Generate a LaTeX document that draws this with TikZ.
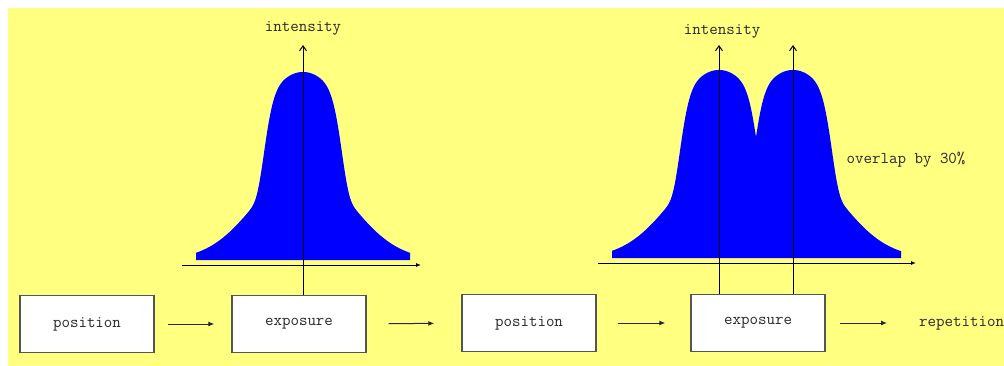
\documentclass[tikz,border=0pt]{standalone}
\usepackage{tikz}
\usetikzlibrary{arrows.meta,positioning}
\definecolor{bgyellow}{RGB}{255,255,128}
\definecolor{boxgray}{RGB}{85,85,85}
\definecolor{inkgray}{RGB}{40,40,40}

\tikzset{
  declare function={
    spot(\t)=94*exp(-(min((abs(\t)+0.01)/40,1.8)^6.6))+94*exp(-((\t/66.74)^2));
  },
  lbl/.style={font=\fontsize{16.5}{18}\selectfont\ttfamily,text=inkgray,inner sep=0pt},
  stage/.style={lbl,draw=boxgray,line width=1.4pt,fill=white,minimum width=134pt,minimum height=57pt},
  flow/.style={inkgray,line width=1pt,-{Latex[length=6pt,width=5pt]}},
  vaxis/.style={black,line width=1pt,-{Straight Barb[length=5pt,width=7pt]}},
  haxis/.style={black,line width=1pt,-{Latex[length=5pt,width=4pt]}},
}

\begin{document}
\begin{tikzpicture}[x=1pt,y=-1pt]
  \useasboundingbox (0,0) rectangle (1004,366);
  \fill[bgyellow] (8,8) rectangle (1004,366);

  % single spot
  \fill[blue] (196,260) -- plot[domain=-107:107,samples=215] ({303+\x},{260-spot(\x)}) -- (410,260) -- cycle;
  % two spots, 30% overlap
  \fill[blue] (612,258) -- plot[domain=612:901,samples=290] (\x,{258-max(spot(\x-719),spot(\x-793))}) -- (901,258) -- cycle;

  % process steps
  \node[stage] (pos1) at (87,324) {position};
  \node[stage] (expo1) at (299,324) {exposure};
  \node[stage] (pos2) at (529,323) {position};
  \node[stage] (expo2) at (758,323) {exposure};
  \node[lbl,anchor=west] (rep) at (919,323) {repetition};

  \draw[flow,shorten <=13pt,shorten >=17pt] (pos1) -- (expo1);
  \draw[flow,shorten <=22pt,shorten >=27pt] (expo1) -- (pos2);
  \draw[flow,shorten <=21pt,shorten >=25pt] (pos2) -- (expo2);
  \draw[flow,shorten <=14pt,shorten >=32pt] (expo2) -- (rep);

  % axes
  \coordinate (top1) at (303,45);
  \coordinate (top2) at (719,45);
  \coordinate (top3) at (793,45);
  \draw[haxis] (182,265) -- (421,265);
  \draw[haxis] (598,263) -- (916,263);
  \draw[vaxis] (expo1.north -| top1) -- (top1);
  \draw[vaxis] (expo2.north -| top2) -- (top2);
  \draw[vaxis] (expo2.north -| top3) -- (top3);

  \node[lbl] (int1) at (303,28) {intensity};
  \node[lbl] (int2) at (722,31) {intensity};
  \node[lbl] (ovl) at (906,160) {overlap by 30\%};
\end{tikzpicture}
\end{document}
